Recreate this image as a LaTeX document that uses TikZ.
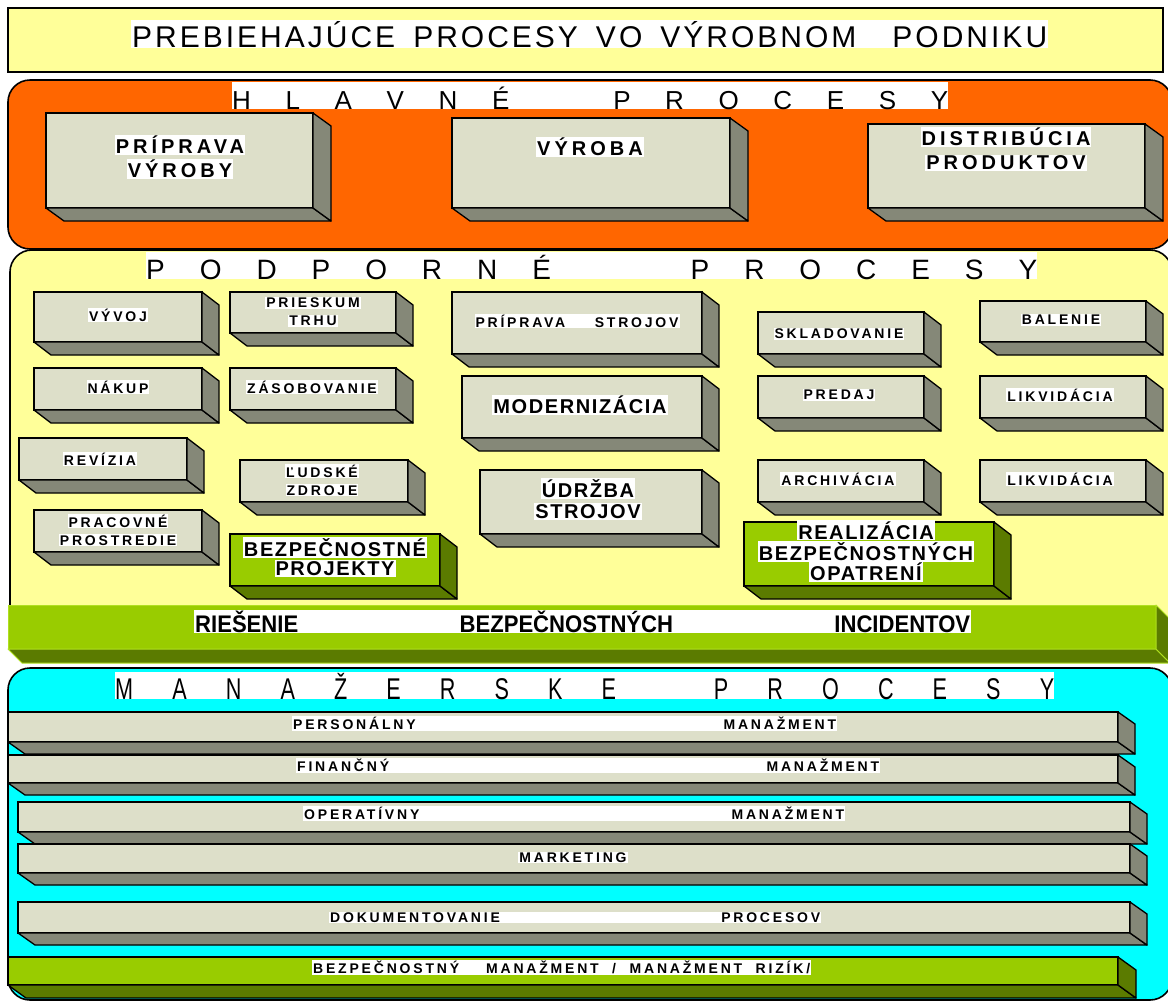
\documentclass[tikz,border=0pt]{standalone}
\usepackage{fontspec}
\usepackage{graphicx}
\setmainfont{Liberation Sans}
\newfontfamily\lblfont[LetterSpace=20]{Liberation Sans}
\newfontfamily\midfont[LetterSpace=8]{Liberation Sans}
\newfontfamily\ttlfont[LetterSpace=10]{Liberation Sans}
\newfontfamily\narrowfont[FakeStretch=0.72]{Liberation Sans}
\newfontfamily\condfont[FakeStretch=0.92]{Liberation Sans}
\definecolor{facec}{HTML}{DDDFC9}
\definecolor{sidec}{HTML}{858878}
\definecolor{grn}{HTML}{99CC00}
\definecolor{dgrn}{HTML}{5B7B00}
\definecolor{grnedge}{HTML}{B0E020}
\definecolor{yel}{HTML}{FFFF99}
\definecolor{orng}{HTML}{FF6600}
\definecolor{cyn}{HTML}{00FFFF}
\newcommand\wl[1]{{\setlength\fboxsep{1pt}\colorbox{white}{#1}}}
\def\dx{17}\def\dy{13}
\newcommand\tdbox[6]{%
  \node[#6face, anchor=north west, minimum width={(#4-#2)*1pt}, minimum height={(#5-#3)*1pt}] (#1) at (#2,#3) {};
  \draw[#6side] (#1.south west) -- ++(\dx,\dy) -- ([shift={(\dx,\dy)}]#1.south east) -- (#1.south east) -- cycle;
  \draw[#6side] (#1.north east) -- ++(\dx,\dy) -- ([shift={(\dx,\dy)}]#1.south east) -- (#1.south east) -- cycle;
}
\begin{document}
\begin{tikzpicture}[x=1pt,y=-1pt,
  gface/.style={draw=black, line width=1.3pt, fill=facec, inner sep=0, outer sep=0},
  gside/.style={draw=black, line width=1.3pt, fill=sidec, line join=round},
  rface/.style={draw=black, line width=1.3pt, fill=grn, inner sep=0, outer sep=0},
  rside/.style={draw=black, line width=1.3pt, fill=dgrn, line join=round},
  bface/.style={draw=grnedge, line width=1pt, fill=grn, inner sep=0, outer sep=0},
  bside/.style={draw=grnedge, line width=1pt, fill=dgrn, line join=round},
  region/.style={draw=black, line width=1.6pt, inner sep=0, outer sep=0, anchor=north west, rounded corners=22pt},
  hdr/.style={fill=white, inner sep=0, anchor=base west, text height=27pt, text depth=0pt},
  lbl/.style={inner sep=0, align=center, font=\lblfont\bfseries\fontsize{14}{18}\selectfont},
  hlbl/.style={inner sep=0, align=center, font=\lblfont\bfseries\fontsize{20}{24}\selectfont},
  blbl/.style={inner sep=0, align=center, font=\midfont\bfseries\fontsize{20}{20}\selectfont},
  barlbl/.style={inner sep=0, anchor=west, font=\lblfont\bfseries\fontsize{14}{18}\selectfont}
]
\useasboundingbox (0,0) rectangle (1168,1002);
\fill[white] (0,0) rectangle (1168,1002);

% title
\node[draw=black, line width=1.3pt, fill=yel, inner sep=0, outer sep=0, anchor=north west, minimum width=1155pt, minimum height=64pt] (titlebox) at (8,8) {};
\node[inner sep=0, anchor=base west, font=\ttlfont\fontsize{30}{33}\selectfont] (title) at (131,47) {\wl{\hbox to 915pt{PREBIEHAJÚCE PROCESY VO VÝROBNOM\ \ PODNIKU}}};

% main processes
\node[region, fill=orng, minimum width=1164pt, minimum height=169pt] (hlavne) at (8,80) {};
\node[hdr, font=\fontsize{26}{26}\selectfont] (hlavnehdr) at (232,109) {\hbox to 716pt{H\hfill L\hfill A\hfill V\hfill N\hfill É\hfill\hfill\hfill P\hfill R\hfill O\hfill C\hfill E\hfill S\hfill Y}};
\def\dx{18}\def\dy{13}
\tdbox{pv}{46}{113}{313}{208}{g}
\tdbox{vy}{452}{118}{730}{208}{g}
\tdbox{dp}{868}{124}{1145}{208}{g}
\node[hlbl] (pvt) at (180,157) {\wl{PRÍPRAVA}\\\wl{VÝROBY}};
\node[hlbl] (vyt) at (590,147) {\wl{VÝROBA}};
\node[hlbl] (dpt) at (1006,149) {\wl{DISTRIBÚCIA}\\\wl{PRODUKTOV}};

% support processes
\node[region, fill=yel, minimum width=1162pt, minimum height=390pt] (podp) at (10,250) {};
\node[hdr, font=\fontsize{28}{28}\selectfont] (podphdr) at (146,279) {\hbox to 891pt{P\hfill O\hfill D\hfill P\hfill O\hfill R\hfill N\hfill É\hfill\hfill\hfill\hfill P\hfill R\hfill O\hfill C\hfill E\hfill S\hfill Y}};
\def\dx{17}\def\dy{13}
\tdbox{vyv}{34}{292}{202}{342}{g}
\tdbox{prie}{230}{292}{396}{333}{g}
\tdbox{nak}{34}{368}{202}{410}{g}
\tdbox{zas}{230}{368}{396}{410}{g}
\tdbox{rev}{19}{438}{187}{480}{g}
\tdbox{lud}{240}{460}{408}{502}{g}
\tdbox{prac}{34}{510}{202}{552}{g}
\tdbox{bezp}{230}{534}{440}{586}{r}
\tdbox{pris}{452}{292}{702}{354}{g}
\tdbox{mod}{462}{376}{702}{438}{g}
\tdbox{udr}{480}{470}{702}{534}{g}
\tdbox{skl}{758}{312}{924}{354}{g}
\tdbox{pred}{758}{376}{924}{418}{g}
\tdbox{arch}{758}{460}{924}{502}{g}
\tdbox{bal}{980}{301}{1146}{342}{g}
\tdbox{lika}{980}{376}{1146}{418}{g}
\tdbox{likb}{980}{460}{1146}{502}{g}
\tdbox{real}{744}{522}{994}{586}{r}

\node[lbl] (vyvt) at (118,315) {\wl{VÝVOJ}};
\node[lbl] (priet) at (313,312) {\wl{PRIESKUM}\\\wl{TRHU}};
\node[lbl] (nakt) at (118,387) {\wl{NÁKUP}};
\node[lbl] (zast) at (312,387) {\wl{ZÁSOBOVANIE}};
\node[lbl] (revt) at (100,459) {\wl{REVÍZIA}};
\node[lbl] (ludt) at (322,480) {\wl{ĽUDSKÉ}\\\wl{ZDROJE}};
\node[lbl] (pract) at (118,530) {\wl{PRACOVNÉ}\\\wl{PROSTREDIE}};
\node[blbl, font=\midfont\bfseries\fontsize{20}{19}\selectfont] (bezpt) at (335,557) {\wl{BEZPEČNOSTNÉ}\\\wl{PROJEKTY}};
\node[lbl] (prist) at (577,321) {\wl{\hbox to 203pt{PRÍPRAVA\hfill STROJOV}}};
\node[blbl] (modt) at (580,405) {\wl{MODERNIZÁCIA}};
\node[blbl, font=\midfont\bfseries\fontsize{20}{21}\selectfont] (udrt) at (588,499) {\wl{ÚDRŽBA}\\\wl{STROJOV}};
\node[lbl] (sklt) at (839,334) {\wl{SKLADOVANIE}};
\node[lbl] (predt) at (839,395) {\wl{PREDAJ}};
\node[lbl] (archt) at (838,479) {\wl{ARCHIVÁCIA}};
\node[lbl] (balt) at (1061,320) {\wl{BALENIE}};
\node[lbl] (likat) at (1060,395) {\wl{LIKVIDÁCIA}};
\node[lbl] (likbt) at (1060,479) {\wl{LIKVIDÁCIA}};
\node[blbl] (realt) at (866,551) {\wl{REALIZÁCIA}\\\wl{BEZPEČNOSTNÝCH}\\\wl{OPATRENÍ}};

% incident bar
\def\dx{14}\def\dy{14}
\tdbox{ries}{8}{605}{1156}{649}{b}
\node[inner sep=0, anchor=base west, font=\condfont\bfseries\fontsize{24}{24}\selectfont] (riest) at (194,632) {\wl{\hbox to 775pt{RIEŠENIE\hfill BEZPEČNOSTNÝCH\hfill INCIDENTOV}}};

% management processes
\node[region, fill=cyn, minimum width=1164pt, minimum height=332pt] (man) at (8,668) {};
\node[hdr, font=\narrowfont\fontsize{30}{30}\selectfont] (manhdr) at (115,699) {\hbox to 939pt{M\hfill A\hfill N\hfill A\hfill Ž\hfill E\hfill R\hfill S\hfill K\hfill E\hspace{\stretch{2.5}}P\hfill R\hfill O\hfill C\hfill E\hfill S\hfill Y}};
\def\dx{17}\def\dy{12}
\tdbox{per}{8}{712}{1118}{742}{g}
\tdbox{fin}{8}{755}{1118}{783}{g}
\tdbox{ope}{18}{802}{1130}{832}{g}
\tdbox{mar}{18}{844}{1130}{873}{g}
\tdbox{dok}{18}{902}{1130}{933}{g}
\def\dx{18}\def\dy{13}
\tdbox{bm}{8}{957}{1118}{985}{r}
\node[barlbl] (pert) at (292,723.5) {\wl{\hbox to 543pt{PERSONÁLNY\hfill MANAŽMENT}}};
\node[barlbl] (fint) at (296,765.5) {\wl{\hbox to 582pt{FINANČNÝ\hfill MANAŽMENT}}};
\node[barlbl] (opet) at (303,813.5) {\wl{\hbox to 540pt{OPERATÍVNY\hfill MANAŽMENT}}};
\node[lbl] (mart) at (573,857.5) {\wl{MARKETING}};
\node[barlbl] (dokt) at (329,917.5) {\wl{\hbox to 490pt{DOKUMENTOVANIE\hfill PROCESOV}}};
\node[barlbl] (bmt) at (312,967.5) {\wl{\hbox to 497pt{BEZPEČNOSTNÝ\ \ MANAŽMENT / MANAŽMENT RIZÍK/}}};
\end{tikzpicture}
\end{document}
